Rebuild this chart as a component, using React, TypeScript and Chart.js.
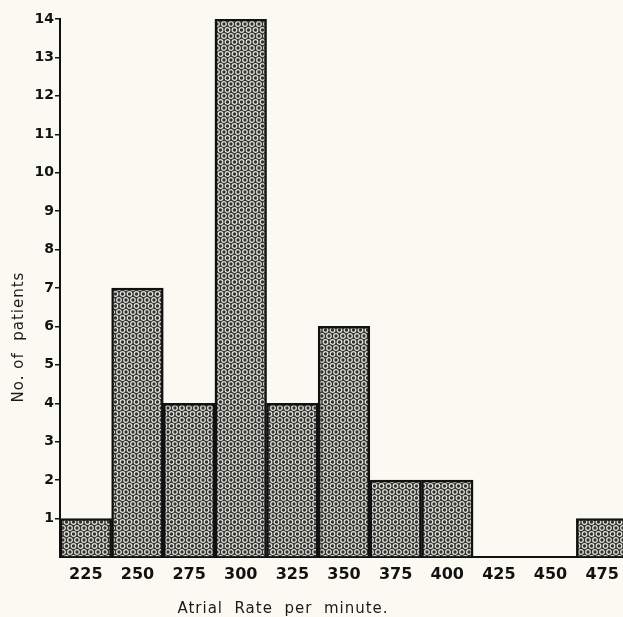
import { useEffect, useRef } from "react";
import { Chart, registerables } from "chart.js";

Chart.register(...registerables);

const categories = ["225", "250", "275", "300", "325", "350", "375", "400", "425", "450", "475"];
const patients = [1, 7, 4, 14, 4, 6, 2, 2, 0, 0, 1];
const yMax = 14;
const xTitle = "Atrial  Rate  per  minute.";
const yTitle = "No. of  patients";

function makePattern(): CanvasPattern | string {
  const w = 7;
  const h = 12;
  const tile = document.createElement("canvas");
  tile.width = w;
  tile.height = h;
  const c = tile.getContext("2d");
  if (!c) return "#888";
  c.fillStyle = "#323230";
  c.fillRect(0, 0, w, h);
  c.strokeStyle = "#e2e1d8";
  c.lineWidth = 1.3;
  const pts = [
    [0, 0],
    [w, 0],
    [0, h],
    [w, h],
    [w / 2, h / 2],
  ];
  for (const [x, y] of pts) {
    c.beginPath();
    c.arc(x, y, 2.3, 0, Math.PI * 2);
    c.stroke();
  }
  const p = c.createPattern(tile, "repeat");
  return p || "#888";
}

const titlePlugin = {
  id: "axisTitles",
  afterDraw(chart: any) {
    const ctx = chart.ctx;
    const area = chart.chartArea;
    ctx.save();
    ctx.fillStyle = "#1a1a1a";
    ctx.textAlign = "center";
    ctx.textBaseline = "middle";
    ctx.font = "15px 'DejaVu Sans'";
    try {
      ctx.letterSpacing = "1px";
    } catch (e) {}
    ctx.fillText(xTitle, area.left + 223, area.bottom + 52);
    ctx.translate(19, area.top + 318);
    ctx.rotate(-Math.PI / 2);
    ctx.fillText(yTitle, 0, 0);
    ctx.restore();
  },
};

export default function App() {
  const ref = useRef<HTMLCanvasElement>(null);

  useEffect(() => {
    if (!ref.current) return;
    const pattern = makePattern();
    const chart = new Chart(ref.current, {
      type: "bar",
      data: {
        labels: categories,
        datasets: [
          {
            data: patients,
            backgroundColor: pattern as any,
            borderColor: "#111",
            borderWidth: 2.5,
            barPercentage: 1,
            categoryPercentage: 1,
          },
        ],
      },
      options: {
        animation: false,
        responsive: false,
        devicePixelRatio: 1,
        layout: { padding: { top: 19, right: 0, bottom: 0, left: 0 } },
        plugins: {
          legend: { display: false },
          tooltip: { enabled: false },
        },
        scales: {
          x: {
            type: "category",
            grid: { display: true, drawOnChartArea: false, drawTicks: false },
            border: { color: "#111", width: 2 },
            ticks: {
              color: "#111",
              font: { family: "'DejaVu Sans'", weight: "bold", size: 16 },
              padding: 8,
              maxRotation: 0,
              autoSkip: false,
            },
            afterFit: (s: any) => {
              s.height = 60;
            },
          },
          y: {
            min: 0,
            max: yMax,
            ticks: {
              stepSize: 1,
              color: "#111",
              font: { family: "'DejaVu Sans'", weight: "bold", size: 14 },
              padding: 1,
              callback: (v: any) => (v === 0 ? "" : String(v)),
            },
            grid: {
              drawOnChartArea: false,
              drawTicks: true,
              tickLength: 5,
              color: (c: any) => (c.tick && c.tick.value === 0 ? "rgba(0,0,0,0)" : "#111"),
              lineWidth: 1.5,
            },
            border: { color: "#111", width: 2 },
            afterFit: (s: any) => {
              s.width = 60;
            },
          },
        },
      },
      plugins: [titlePlugin],
    });
    return () => chart.destroy();
  }, []);

  return (
    <div
      style={{
        position: "fixed",
        left: 0,
        top: 0,
        width: 623,
        height: 617,
        overflow: "hidden",
        background: "#fbfaf2",
      }}
    >
      <canvas ref={ref} width={628} height={617} style={{ display: "block" }} />
    </div>
  );
}
